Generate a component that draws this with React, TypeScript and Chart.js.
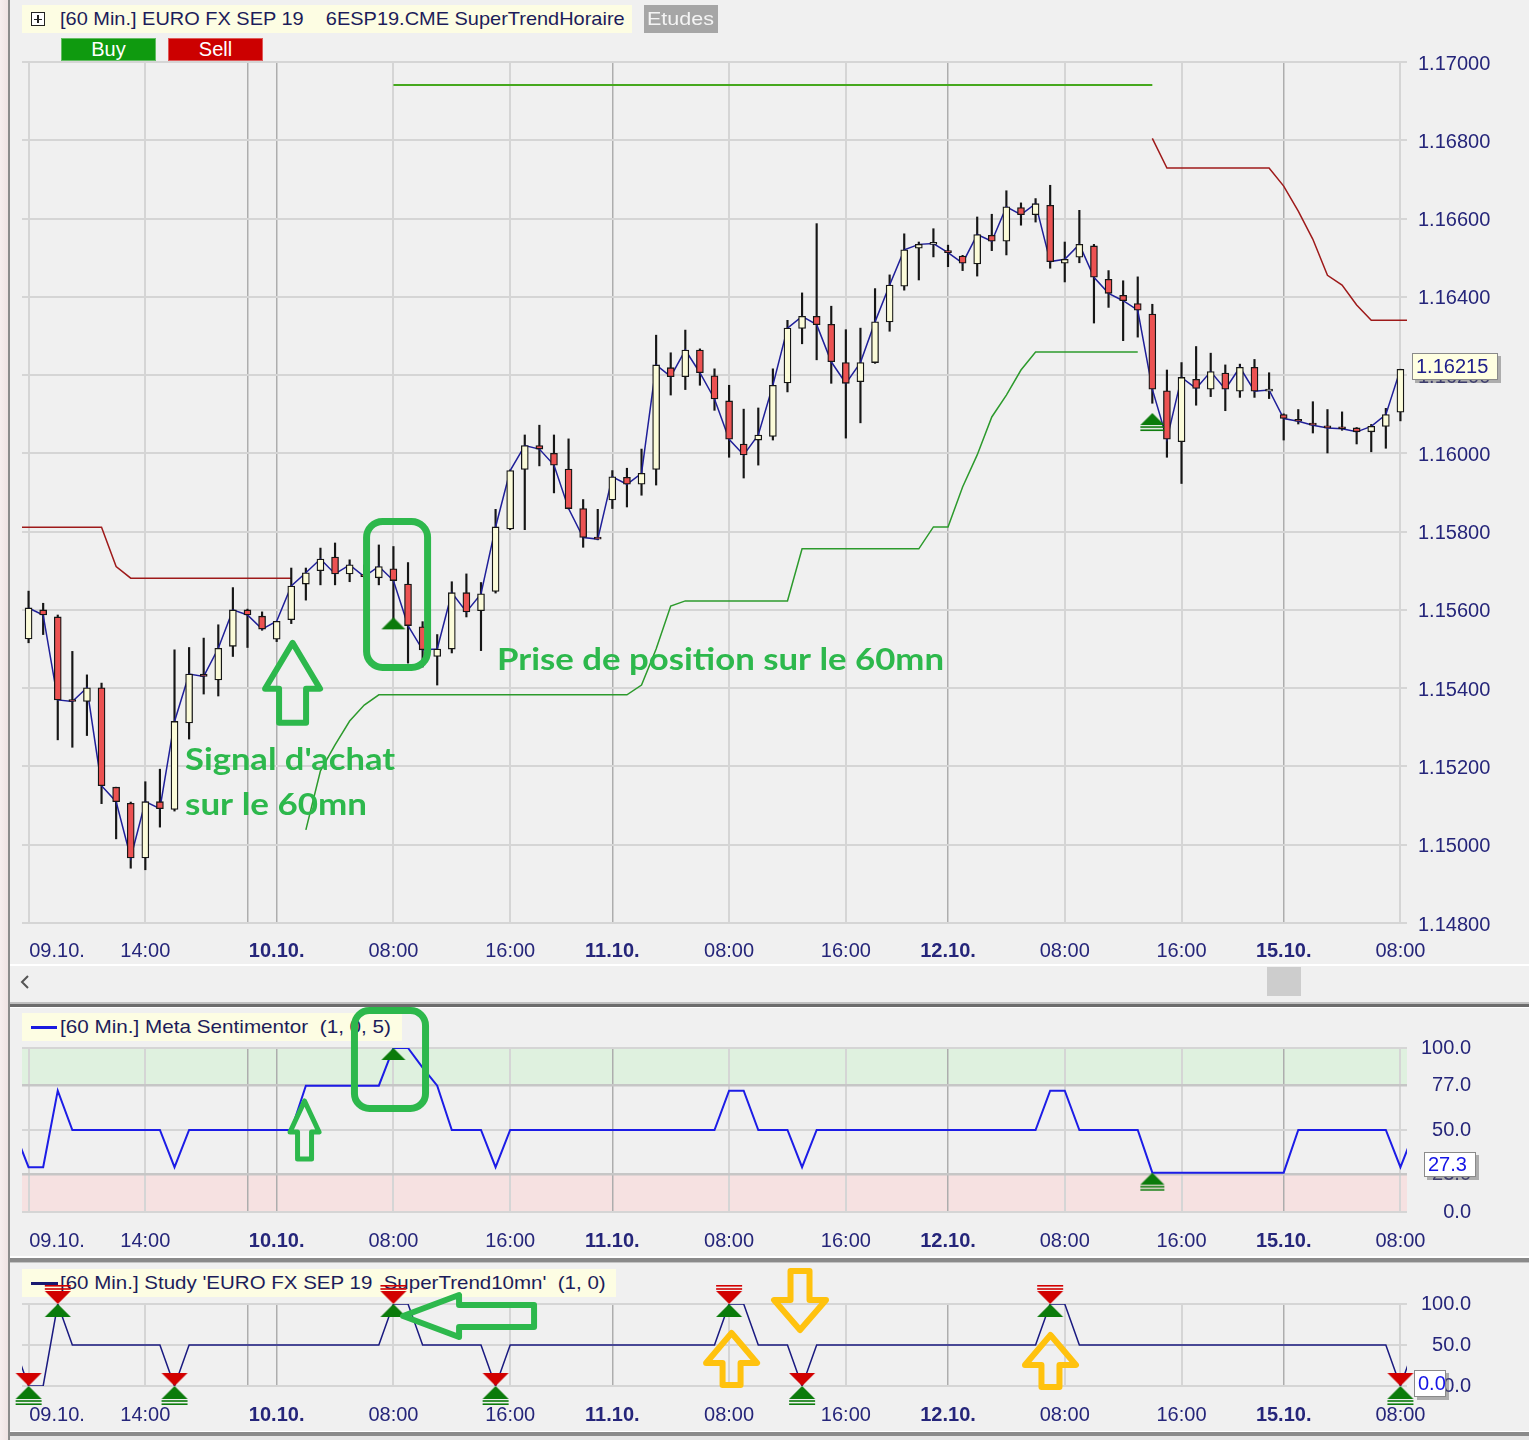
import React, { useEffect, useRef } from "react";
import { Chart, registerables } from "chart.js";

Chart.register(...registerables);

// ---------------- DATA (bar index 0 = first hourly bar, 09.10.) ----------------
const OPEN = [
  1.15526, 1.15600, 1.15582, 1.15370, 1.15366, 1.15401, 1.15147, 1.15106, 1.14966, 1.15110,
  1.15090, 1.15311, 1.15436, 1.15421, 1.15507, 1.15600, 1.15584, 1.15525, 1.15575, 1.15666,
  1.15700, 1.15735, 1.15692, 1.15689, 1.15682, 1.15705, 1.15666, 1.15557, 1.15481, 1.15500,
  1.15644, 1.15598, 1.15647, 1.15807, 1.15959, 1.16020, 1.16000, 1.15960, 1.15859, 1.15785,
  1.15881, 1.15939, 1.15921, 1.15959, 1.16219, 1.16196, 1.16264, 1.16198, 1.16134, 1.16024,
  1.16034, 1.16043, 1.16180, 1.16319, 1.16350, 1.16330, 1.16232, 1.16183, 1.16232, 1.16336,
  1.16427, 1.16524, 1.16534, 1.16515, 1.16504, 1.16484, 1.16557, 1.16542, 1.16628, 1.16610,
  1.16634, 1.16486, 1.16501, 1.16530, 1.16445, 1.16404, 1.16383, 1.16356, 1.16160, 1.16030,
  1.16189, 1.16164, 1.16205, 1.16159, 1.16220, 1.16159, 1.16099, 1.16085, 1.16075, 1.16067,
  1.16065, 1.16065, 1.16055, 1.16069, 1.16105,
];
const HIGH = [
  1.15648, 1.15617, 1.15587, 1.15494, 1.15434, 1.15413, 1.15147, 1.15109, 1.15161, 1.15193,
  1.15498, 1.15504, 1.15528, 1.15562, 1.15657, 1.15602, 1.15595, 1.15571, 1.15707, 1.15707,
  1.15758, 1.15771, 1.15728, 1.15715, 1.15766, 1.15762, 1.15721, 1.15570, 1.15537, 1.15672,
  1.15692, 1.15670, 1.15857, 1.15958, 1.16047, 1.16072, 1.16047, 1.16037, 1.15882, 1.15857,
  1.15956, 1.15962, 1.16011, 1.16302, 1.16257, 1.16315, 1.16267, 1.16216, 1.16174, 1.16113,
  1.16116, 1.16216, 1.16340, 1.16410, 1.16587, 1.16376, 1.16316, 1.16320, 1.16421, 1.16456,
  1.16561, 1.16540, 1.16574, 1.16532, 1.16506, 1.16604, 1.16611, 1.16671, 1.16640, 1.16651,
  1.16685, 1.16540, 1.16621, 1.16534, 1.16467, 1.16441, 1.16451, 1.16381, 1.16213, 1.16232,
  1.16273, 1.16256, 1.16226, 1.16228, 1.16240, 1.16206, 1.16101, 1.16112, 1.16132, 1.16112,
  1.16106, 1.16066, 1.16074, 1.16115, 1.16215,
];
const LOW = [
  1.15516, 1.15537, 1.15268, 1.15249, 1.15279, 1.15105, 1.15015, 1.14940, 1.14936, 1.15045,
  1.15086, 1.15270, 1.15385, 1.15380, 1.15481, 1.15504, 1.15548, 1.15519, 1.15565, 1.15625,
  1.15664, 1.15664, 1.15672, 1.15681, 1.15664, 1.15558, 1.15464, 1.15454, 1.15408, 1.15490,
  1.15582, 1.15496, 1.15643, 1.15805, 1.15805, 1.15968, 1.15899, 1.15858, 1.15760, 1.15779,
  1.15859, 1.15863, 1.15893, 1.15919, 1.16149, 1.16163, 1.16174, 1.16110, 1.15990, 1.15937,
  1.15970, 1.16034, 1.16157, 1.16280, 1.16239, 1.16179, 1.16039, 1.16078, 1.16230, 1.16312,
  1.16417, 1.16443, 1.16502, 1.16477, 1.16467, 1.16453, 1.16518, 1.16507, 1.16583, 1.16591,
  1.16473, 1.16438, 1.16487, 1.16333, 1.16373, 1.16288, 1.16297, 1.16128, 1.15990, 1.15923,
  1.16123, 1.16145, 1.16109, 1.16143, 1.16143, 1.16140, 1.16034, 1.16075, 1.16052, 1.16001,
  1.16059, 1.16024, 1.16004, 1.16013, 1.16083,
];
const CLOSE = [
  1.15605, 1.15587, 1.15370, 1.15366, 1.15401, 1.15151, 1.15110, 1.14966, 1.15110, 1.15092,
  1.15315, 1.15436, 1.15430, 1.15502, 1.15600, 1.15587, 1.15551, 1.15571, 1.15661, 1.15695,
  1.15730, 1.15692, 1.15715, 1.15685, 1.15711, 1.15675, 1.15560, 1.15498, 1.15500, 1.15644,
  1.15595, 1.15641, 1.15812, 1.15956, 1.16020, 1.16011, 1.15970, 1.15859, 1.15785, 1.15781,
  1.15940, 1.15921, 1.15949, 1.16226, 1.16196, 1.16264, 1.16206, 1.16139, 1.16036, 1.15996,
  1.16047, 1.16174, 1.16320, 1.16350, 1.16329, 1.16234, 1.16179, 1.16232, 1.16336, 1.16430,
  1.16520, 1.16534, 1.16536, 1.16513, 1.16486, 1.16559, 1.16542, 1.16630, 1.16610, 1.16638,
  1.16490, 1.16496, 1.16534, 1.16450, 1.16409, 1.16390, 1.16366, 1.16164, 1.16036, 1.16194,
  1.16166, 1.16209, 1.16164, 1.16220, 1.16159, 1.16162, 1.16089, 1.16082, 1.16072, 1.16065,
  1.16063, 1.16055, 1.16069, 1.16099, 1.16215,
];

// indicator series run from bar index -1 to 95 (edge points are clipped by the plot)
const IND_START = -1;
const ST_UPPER = [
  1.15811,
  1.15811, 1.15811, 1.15811, 1.15811, 1.15811, 1.15811, 1.15711, 1.15681, 1.15681, 1.15681,
  1.15681, 1.15681, 1.15681, 1.15681, 1.15681, 1.15681, 1.15681, 1.15681, 1.15681, null,
  null, null, null, null, null, null, null, null, null, null,
  null, null, null, null, null, null, null, null, null, null,
  null, null, null, null, null, null, null, null, null, null,
  null, null, null, null, null, null, null, null, null, null,
  null, null, null, null, null, null, null, null, null, null,
  null, null, null, null, null, null, null, 1.16805, 1.16729, 1.16729,
  1.16729, 1.16729, 1.16729, 1.16729, 1.16729, 1.16729, 1.16683, 1.16619, 1.16547, 1.16455,
  1.16430, 1.16379, 1.16340, 1.16340, 1.16340,
  1.16340,
];
const ST_LOWER = [
  null,
  null, null, null, null, null, null, null, null, null, null,
  null, null, null, null, null, null, null, null, null, 1.15038,
  1.15189, 1.15255, 1.15316, 1.15357, 1.15383, 1.15383, 1.15383, 1.15383, 1.15383, 1.15383,
  1.15383, 1.15383, 1.15383, 1.15383, 1.15383, 1.15383, 1.15383, 1.15383, 1.15383, 1.15383,
  1.15383, 1.15383, 1.15408, 1.15500, 1.15610, 1.15623, 1.15623, 1.15623, 1.15623, 1.15623,
  1.15623, 1.15623, 1.15623, 1.15756, 1.15756, 1.15756, 1.15756, 1.15756, 1.15756, 1.15756,
  1.15756, 1.15756, 1.15812, 1.15812, 1.15914, 1.15996, 1.16093, 1.16149, 1.16213, 1.16259,
  1.16259, 1.16259, 1.16259, 1.16259, 1.16259, 1.16259, 1.16259, null, null, null,
  null, null, null, null, null, null, null, null, null, null,
  null, null, null, null, null,
  null,
];
const ST_TARGET = [
  null,
  null, null, null, null, null, null, null, null, null, null,
  null, null, null, null, null, null, null, null, null, null,
  null, null, null, null, null, 1.16941, 1.16941, 1.16941, 1.16941, 1.16941,
  1.16941, 1.16941, 1.16941, 1.16941, 1.16941, 1.16941, 1.16941, 1.16941, 1.16941, 1.16941,
  1.16941, 1.16941, 1.16941, 1.16941, 1.16941, 1.16941, 1.16941, 1.16941, 1.16941, 1.16941,
  1.16941, 1.16941, 1.16941, 1.16941, 1.16941, 1.16941, 1.16941, 1.16941, 1.16941, 1.16941,
  1.16941, 1.16941, 1.16941, 1.16941, 1.16941, 1.16941, 1.16941, 1.16941, 1.16941, 1.16941,
  1.16941, 1.16941, 1.16941, 1.16941, 1.16941, 1.16941, 1.16941, 1.16941, null, null,
  null, null, null, null, null, null, null, null, null, null,
  null, null, null, null, null,
  null,
];
const META = [
  50,
  27.3, 27.3, 74, 50, 50, 50, 50, 50, 50, 50,
  27.3, 50, 50, 50, 50, 50, 50, 50, 50, 77,
  77, 77, 77, 77, 77, 100, 100, 88, 77, 50,
  50, 50, 27.3, 50, 50, 50, 50, 50, 50, 50,
  50, 50, 50, 50, 50, 50, 50, 50, 74, 74,
  50, 50, 50, 27.3, 50, 50, 50, 50, 50, 50,
  50, 50, 50, 50, 50, 50, 50, 50, 50, 50,
  74, 74, 50, 50, 50, 50, 50, 24, 24, 24,
  24, 24, 24, 24, 24, 24, 24, 50, 50, 50,
  50, 50, 50, 50, 27.3,
  50,
];
const ST10 = [
  50,
  0, 0, 100, 50, 50, 50, 50, 50, 50, 50,
  0, 50, 50, 50, 50, 50, 50, 50, 50, 50,
  50, 50, 50, 50, 50, 100, 100, 50, 50, 50,
  50, 50, 0, 50, 50, 50, 50, 50, 50, 50,
  50, 50, 50, 50, 50, 50, 50, 50, 100, 100,
  50, 50, 50, 0, 50, 50, 50, 50, 50, 50,
  50, 50, 50, 50, 50, 50, 50, 50, 50, 50,
  100, 100, 50, 50, 50, 50, 50, 50, 50, 50,
  50, 50, 50, 50, 50, 50, 50, 50, 50, 50,
  50, 50, 50, 50, 0,
  50,
];

// signal markers
const BUY_IDX = [25, 77];
const BUY_PRICE = [1.15581, 1.16103];
const META_MARK_IDX = [25, 77];
const ST10_LOW_IDX = [0, 10, 32, 53, 94];
const ST10_HIGH_IDX = [2, 25, 48, 70];

// axes
const X_TICKS = [0, 1.95, 8, 15, 17, 25, 33, 40, 48, 56, 63, 71, 79, 86, 94];
const X_LABELS = ["", "09.10.", "14:00", "", "10.10.", "08:00", "16:00", "11.10.", "08:00", "16:00", "12.10.", "08:00", "16:00", "15.10.", "08:00"];
const X_BOLD = [17, 40, 63, 86];
const X_DAY = [15, 17, 40, 63, 86];
const X_LABEL_ONLY = [1.95];
const PRICE_TICKS = [1.148, 1.15, 1.152, 1.154, 1.156, 1.158, 1.16, 1.162, 1.164, 1.166, 1.168, 1.17];
const META_TICKS = [0, 23, 50, 77, 100];
const ST10_TICKS = [0, 50, 100];
const META_BAND_HIGH = [77, 100];
const META_BAND_LOW = [0, 23];

// hand-drawn notes, anchored in data units (bar index, price / indicator value)
const NOTE_MAIN_BOX = [22.92, 1.15835, 27.58, 1.15444];
const NOTE_MAIN_ARROW = [18.09, 1.15516];
const NOTE_TEXT_1 = [10.72, 1.15217];
const NOTE_TEXT_2 = [10.72, 1.15102];
const NOTE_TEXT_3 = [32.1, 1.15472];
const NOTE_META_BOX = [22.09, 125, 27.44, 61];
const NOTE_META_ARROW = [18.91, 67.7];
const NOTE_ST_LEFT_ARROW = [25.66, 85.4];
const NOTE_ST_DOWN_ARROW = [52.86, 68.3];
const NOTE_ST_UP_ARROWS = [[48.17, 64.6], [70.02, 62.2]];

// ---------------- STYLE ----------------
const FONT = '"Liberation Sans", Arial, sans-serif';
const AXIS_COLOR = "#25257a";
const BG = "#f0f0f0";
const GRID = "#d5d5d5";
const GRID_DAY = "#adadad";
const BULL = "#fbfbd9";
const BEAR = "#ec5252";
const OUTLINE = "#161616";
const ANN_GREEN = "#2db84c";
const ANN_YELLOW = "#ffc20e";
const MK_GREEN = "#0b7b0b";
const MK_RED = "#d20000";
const X_MIN = -0.45;
const X_MAX = 94.45;

Chart.defaults.font.family = FONT;

function ser(arr: (number | null)[]) {
  return arr.map((v, k) => ({ x: k + IND_START, y: v }));
}
function indVal(arr: (number | null)[], idx: number) {
  return arr[idx - IND_START];
}

function makeMarker(kind: string, W: number, H: number) {
  const ext = H + 8;
  const c = document.createElement("canvas");
  c.width = W + 4;
  c.height = ext * 2;
  const g = c.getContext("2d")!;
  const cx = c.width / 2;
  const cy = ext;
  const tri = (apexY: number, baseY: number, color: string) => {
    g.fillStyle = color;
    g.beginPath();
    g.moveTo(cx, apexY);
    g.lineTo(cx + W / 2, baseY);
    g.lineTo(cx - W / 2, baseY);
    g.closePath();
    g.fill();
  };
  const bars = (y: number, color: string) => {
    g.fillStyle = color;
    g.fillRect(cx - W / 2, y, W, 1.6);
    g.fillRect(cx - W / 2, y + 3.2, W, 1.6);
  };
  if (kind === "up" || kind === "upU") {
    tri(cy, cy + H, MK_GREEN);
    if (kind === "upU") bars(cy + H + 1.2, MK_GREEN);
  } else {
    tri(cy, cy - H, MK_RED);
    tri(cy, cy + H, MK_GREEN);
    if (kind === "hgLow") bars(cy + H + 1.2, MK_GREEN);
    else bars(cy - H - 6, MK_RED);
  }
  return c;
}

function xAxis(height: number, pad: number): any {
  return {
    type: "linear",
    position: "bottom",
    min: X_MIN,
    max: X_MAX,
    offset: false,
    afterBuildTicks: (s: any) => {
      s.ticks = X_TICKS.map((v) => ({ value: v }));
    },
    afterFit: (s: any) => {
      s.height = height;
    },
    border: { display: false },
    grid: {
      offset: false,
      drawTicks: false,
      color: (c: any) => {
        const v = c.tick ? c.tick.value : null;
        if (X_LABEL_ONLY.includes(v)) return "rgba(0,0,0,0)";
        return X_DAY.includes(v) ? GRID_DAY : GRID;
      },
      lineWidth: (c: any) => (c.tick && X_DAY.includes(c.tick.value) ? 1.5 : 2),
    },
    ticks: {
      autoSkip: false,
      maxRotation: 0,
      minRotation: 0,
      padding: pad,
      color: AXIS_COLOR,
      font: (c: any) => ({ family: FONT, size: 20, weight: c.tick && X_BOLD.includes(c.tick.value) ? "bold" : "normal" }),
      callback: (_v: any, i: number) => X_LABELS[i],
    },
  };
}

function yAxis(min: number, max: number, ticks: number[], digits: number, crossAlign: string, pad: number, width: number, gridColor: any, gridWidth: any, labelOffset: number): any {
  return {
    type: "linear",
    position: "right",
    min,
    max,
    beginAtZero: false,
    afterBuildTicks: (s: any) => {
      s.ticks = ticks.map((v) => ({ value: v }));
    },
    afterFit: (s: any) => {
      s.width = width;
    },
    border: { display: false },
    grid: { drawTicks: false, color: gridColor, lineWidth: gridWidth },
    ticks: {
      padding: pad,
      crossAlign,
      labelOffset,
      color: AXIS_COLOR,
      font: { family: FONT, size: 20 },
      callback: (v: any) => Number(v).toFixed(digits),
    },
  };
}

function roundBox(ctx: any, x0: number, y0: number, x1: number, y1: number, lw: number, r: number, color: string) {
  const h = lw / 2;
  ctx.save();
  ctx.beginPath();
  ctx.roundRect(x0 + h, y0 + h, x1 - x0 - lw, y1 - y0 - lw, r);
  ctx.strokeStyle = color;
  ctx.lineWidth = lw;
  ctx.stroke();
  ctx.restore();
}

function blockArrow(ctx: any, tipX: number, tipY: number, angle: number, L: number, headLen: number, headW: number, shaftW: number, color: string, lw: number) {
  ctx.save();
  ctx.translate(tipX, tipY);
  ctx.rotate(angle);
  ctx.beginPath();
  ctx.moveTo(0, 0);
  ctx.lineTo(headW / 2, headLen);
  ctx.lineTo(shaftW / 2, headLen);
  ctx.lineTo(shaftW / 2, L);
  ctx.lineTo(-shaftW / 2, L);
  ctx.lineTo(-shaftW / 2, headLen);
  ctx.lineTo(-headW / 2, headLen);
  ctx.closePath();
  ctx.strokeStyle = color;
  ctx.lineWidth = lw;
  ctx.lineJoin = "round";
  ctx.stroke();
  ctx.restore();
}

function fitText(ctx: any, text: string, x: number, y: number, width: number, font: string, color: string) {
  ctx.save();
  ctx.font = font;
  const m = ctx.measureText(text).width;
  ctx.translate(x, y);
  ctx.scale(width / m, 1);
  ctx.fillStyle = color;
  ctx.textBaseline = "middle";
  ctx.textAlign = "left";
  ctx.fillText(text, 0, 0);
  ctx.restore();
}

function valueBox(ctx: any, text: string, x: number, yc: number, w: number, h: number, bg: string, fg: string) {
  ctx.save();
  const y = Math.round(yc - h / 2);
  ctx.fillStyle = "rgba(90,90,90,0.45)";
  ctx.fillRect(x + 3, y + 3, w, h);
  ctx.fillStyle = bg;
  ctx.fillRect(x, y, w, h);
  ctx.strokeStyle = "#8a8a8a";
  ctx.lineWidth = 1;
  ctx.strokeRect(x + 0.5, y + 0.5, w - 1, h - 1);
  ctx.fillStyle = fg;
  ctx.font = `20px ${FONT}`;
  ctx.textBaseline = "middle";
  ctx.textAlign = "left";
  ctx.fillText(text, x + 4, y + h / 2 + 1);
  ctx.restore();
}

const baseOptions = (padTop: number, padRight: number) => ({
  animation: false,
  responsive: false,
  events: [],
  layout: { padding: { left: 22, right: padRight, top: padTop, bottom: 0 } },
  plugins: { legend: { display: false }, tooltip: { enabled: false } },
});

function mainConfig(): any {
  const triUp = makeMarker("up", 24, 12);
  const triUpU = makeMarker("upU", 24, 12);
  const annotate = {
    id: "mainNotes",
    afterDraw(chart: any) {
      const { ctx } = chart;
      const xs = chart.scales.x;
      const ys = chart.scales.y;
      const X = (v: number) => xs.getPixelForValue(v);
      const Y = (v: number) => ys.getPixelForValue(v);
      roundBox(ctx, X(NOTE_MAIN_BOX[0]), Y(NOTE_MAIN_BOX[1]), X(NOTE_MAIN_BOX[2]), Y(NOTE_MAIN_BOX[3]), 7, 16, ANN_GREEN);
      blockArrow(ctx, X(NOTE_MAIN_ARROW[0]), Y(NOTE_MAIN_ARROW[1]), 0, 80, 46, 55, 27, ANN_GREEN, 6);
      fitText(ctx, "Signal d'achat", X(NOTE_TEXT_1[0]), Y(NOTE_TEXT_1[1]), 210, "bold 31px Lato", ANN_GREEN);
      fitText(ctx, "sur le 60mn", X(NOTE_TEXT_2[0]), Y(NOTE_TEXT_2[1]), 182, "bold 31px Lato", ANN_GREEN);
      fitText(ctx, "Prise de position sur le 60mn", X(NOTE_TEXT_3[0]), Y(NOTE_TEXT_3[1]), 447, "bold 31px Lato", ANN_GREEN);
      const last = CLOSE[CLOSE.length - 1];
      valueBox(ctx, last.toFixed(5), 1412, Y(last) - 3, 86, 27, "#ffffe1", "#20208c");
    },
  };
  return {
    type: "bar",
    data: {
      datasets: [
        { type: "line", data: BUY_IDX.map((x, k) => ({ x, y: BUY_PRICE[k] })), showLine: false, pointStyle: [triUp, triUpU], pointRadius: 10, clip: false, order: 0 },
        {
          type: "bar",
          data: OPEN.map((o, i) => ({ x: i, y: [o, CLOSE[i]] })),
          backgroundColor: OPEN.map((o, i) => (CLOSE[i] >= o ? BULL : BEAR)),
          borderColor: OUTLINE,
          borderWidth: 1.3,
          borderSkipped: false,
          barThickness: 7,
          grouped: false,
          minBarLength: 2,
          order: 1,
        },
        { type: "line", data: CLOSE.map((c, i) => ({ x: i, y: c })), borderColor: "#1f1f99", borderWidth: 1.5, pointRadius: 0, order: 2 },
        { type: "bar", data: LOW.map((l, i) => ({ x: i, y: [l, HIGH[i]] })), backgroundColor: OUTLINE, borderWidth: 0, barThickness: 1.5, grouped: false, order: 3 },
        { type: "line", data: ser(ST_TARGET), borderColor: "#46a81e", borderWidth: 2, pointRadius: 0, order: 4 },
        { type: "line", data: ser(ST_LOWER), borderColor: "#2c9a2c", borderWidth: 1.5, pointRadius: 0, order: 5 },
        { type: "line", data: ser(ST_UPPER), borderColor: "#9e1a1a", borderWidth: 1.5, pointRadius: 0, order: 6 },
      ],
    },
    options: {
      ...baseOptions(62, 0),
      scales: {
        x: xAxis(77, 16),
        y: yAxis(1.148, 1.17, PRICE_TICKS, 5, "near", 11, 122, GRID, 2, 2),
      },
    },
    plugins: [annotate],
  };
}

function metaConfig(): any {
  const triUp = makeMarker("up", 24, 12);
  const triUpU = makeMarker("upU", 24, 12);
  const bands = {
    id: "bands",
    beforeDraw(chart: any) {
      const { ctx, chartArea: a } = chart;
      const ys = chart.scales.y;
      ctx.save();
      ctx.fillStyle = "#dff1df";
      const h0 = ys.getPixelForValue(META_BAND_HIGH[1]);
      const h1 = ys.getPixelForValue(META_BAND_HIGH[0]);
      ctx.fillRect(a.left, h0, a.right - a.left, h1 - h0);
      ctx.fillStyle = "#f6e1e1";
      const l0 = ys.getPixelForValue(META_BAND_LOW[1]);
      const l1 = ys.getPixelForValue(META_BAND_LOW[0]);
      ctx.fillRect(a.left, l0, a.right - a.left, l1 - l0);
      ctx.restore();
    },
  };
  const annotate = {
    id: "metaNotes",
    afterDraw(chart: any) {
      const { ctx } = chart;
      const xs = chart.scales.x;
      const ys = chart.scales.y;
      const X = (v: number) => xs.getPixelForValue(v);
      const Y = (v: number) => ys.getPixelForValue(v);
      roundBox(ctx, X(NOTE_META_BOX[0]), Y(NOTE_META_BOX[1]), X(NOTE_META_BOX[2]), Y(NOTE_META_BOX[3]), 7, 15, ANN_GREEN);
      blockArrow(ctx, X(NOTE_META_ARROW[0]), Y(NOTE_META_ARROW[1]), 0, 58, 31, 29, 14, ANN_GREEN, 5);
      const v = indVal(META, 94) as number;
      valueBox(ctx, v.toFixed(1), 1424, Y(v) - 3, 52, 25, "#ffffff", "#1414e6");
    },
  };
  return {
    type: "line",
    data: {
      datasets: [
        { data: META_MARK_IDX.map((x) => ({ x, y: indVal(META, x) })), showLine: false, pointStyle: [triUp, triUpU], pointRadius: 10, clip: false, order: 0 },
        { data: ser(META), borderColor: "#1c1ce6", borderWidth: 2, pointRadius: 0, order: 1 },
      ],
    },
    options: {
      ...baseOptions(48, 58),
      scales: {
        x: xAxis(46, 17),
        y: yAxis(0, 100, META_TICKS, 1, "far", 14, 64,
          (c: any) => (c.tick && (c.tick.value === 23 || c.tick.value === 77) ? "#c6c6c6" : GRID),
          (c: any) => (c.tick && (c.tick.value === 23 || c.tick.value === 77) ? 2.5 : 2), 0),
      },
    },
    plugins: [bands, annotate],
  };
}

function st10Config(): any {
  const hgLow = makeMarker("hgLow", 26, 13);
  const hgHigh = makeMarker("hgHigh", 26, 13);
  const annotate = {
    id: "stNotes",
    afterDraw(chart: any) {
      const { ctx } = chart;
      const xs = chart.scales.x;
      const ys = chart.scales.y;
      const X = (v: number) => xs.getPixelForValue(v);
      const Y = (v: number) => ys.getPixelForValue(v);
      blockArrow(ctx, X(NOTE_ST_LEFT_ARROW[0]), Y(NOTE_ST_LEFT_ARROW[1]), -Math.PI / 2, 131, 56, 42, 22, ANN_GREEN, 6);
      blockArrow(ctx, X(NOTE_ST_DOWN_ARROW[0]), Y(NOTE_ST_DOWN_ARROW[1]), Math.PI, 59, 30, 52, 19, ANN_YELLOW, 6);
      NOTE_ST_UP_ARROWS.forEach((a) => blockArrow(ctx, X(a[0]), Y(a[1]), 0, 52, 30, 51, 18, ANN_YELLOW, 6));
      const v = indVal(ST10, 94) as number;
      valueBox(ctx, v.toFixed(1), 1414, Y(v) - 3, 32, 27, "#ffffff", "#1414e6");
    },
  };
  return {
    type: "line",
    data: {
      datasets: [
        { data: ST10_HIGH_IDX.map((x) => ({ x, y: indVal(ST10, x) })), showLine: false, pointStyle: hgHigh, pointRadius: 10, clip: false, order: 0 },
        { data: ST10_LOW_IDX.map((x) => ({ x, y: indVal(ST10, x) })), showLine: false, pointStyle: hgLow, pointRadius: 10, clip: false, order: 0 },
        { data: ser(ST10), borderColor: "#1a1a80", borderWidth: 1.5, pointRadius: 0, order: 1 },
      ],
    },
    options: {
      ...baseOptions(40, 58),
      scales: {
        x: xAxis(50, 17),
        y: yAxis(0, 100, ST10_TICKS, 1, "far", 14, 64, GRID, 2, 0),
      },
    },
    plugins: [annotate],
  };
}

function ChartCanvas({ top, height, make }: { top: number; height: number; make: () => any }) {
  const ref = useRef<HTMLCanvasElement>(null);
  useEffect(() => {
    const chart = new Chart(ref.current as HTMLCanvasElement, make());
    return () => chart.destroy();
  }, []);
  return (
    <canvas
      ref={ref}
      width={1529}
      height={height}
      style={{ position: "absolute", left: 0, top, width: 1529, height, zIndex: 1 }}
    />
  );
}

let measureCtx: CanvasRenderingContext2D | null = null;
function FitText({ text, left, top, height, width, size, color, z = 0 }: any) {
  if (!measureCtx && typeof document !== "undefined") measureCtx = document.createElement("canvas").getContext("2d");
  let scale = 1;
  if (measureCtx) {
    measureCtx.font = `${size}px ${FONT}`;
    const w = measureCtx.measureText(text).width;
    if (w > 0) scale = width / w;
  }
  return (
    <div
      style={{
        position: "absolute", left, top, height, lineHeight: `${height}px`, fontFamily: FONT, fontSize: size,
        color, whiteSpace: "pre", transform: `scaleX(${scale})`, transformOrigin: "left center", zIndex: z,
      }}
    >
      {text}
    </div>
  );
}

function Rect({ l, t, w, h, bg, z = 0 }: any) {
  return <div style={{ position: "absolute", left: l, top: t, width: w, height: h, background: bg, zIndex: z }} />;
}

function Button({ l, t, w, h, bg, label, color, z }: any) {
  return (
    <div
      style={{
        position: "absolute", left: l, top: t, width: w, height: h, background: bg, zIndex: z, color,
        fontFamily: FONT, fontSize: 20, lineHeight: `${h - 2}px`, textAlign: "center", boxSizing: "border-box",
        border: "1px solid rgba(255,255,255,0.35)",
      }}
    >
      {label}
    </div>
  );
}

export default function App() {
  return (
    <div style={{ position: "absolute", left: 0, top: 0, width: 1529, height: 1440, background: BG, overflow: "hidden" }}>
      {/* window frame */}
      <Rect l={0} t={0} w={8} h={1440} bg="linear-gradient(90deg,#f6eeee,#efe3e3)" />
      <Rect l={8} t={0} w={2} h={1440} bg="#8c8c8c" />

      {/* main panel header */}
      <Rect l={22} t={5} w={610} h={28} bg="#fdfde3" z={2} />
      <div style={{ position: "absolute", left: 31, top: 12, width: 12, height: 12, border: "1px solid #222", background: "#fff", zIndex: 3 }}>
        <div style={{ position: "absolute", left: 2, top: 5.5, width: 8, height: 1.5, background: "#222" }} />
        <div style={{ position: "absolute", left: 5.3, top: 2, width: 1.5, height: 8, background: "#222" }} />
      </div>
      <FitText text="[60 Min.] EURO FX SEP 19    6ESP19.CME SuperTrendHoraire" left={60} top={5} height={28} width={565} size={19} color="#1c1c5a" z={3} />
      <Rect l={644} t={5} w={74} h={28} bg="#a6a6a6" z={2} />
      <FitText text="Etudes" left={647} top={5} height={28} width={67} size={19} color="#f4f4f4" z={3} />
      <Button l={61} t={38} w={95} h={23} bg="#0f9a0f" label="Buy" color="#ffffff" z={3} />
      <Button l={168} t={38} w={95} h={23} bg="#cc0000" label="Sell" color="#ffffff" z={3} />

      {/* scrollbar */}
      <Rect l={10} t={964} w={1519} h={2} bg="#ffffff" z={2} />
      <Rect l={1267} t={967} w={34} h={29} bg="#cdcdcd" z={2} />
      <svg style={{ position: "absolute", left: 18, top: 974, zIndex: 2 }} width={14} height={16}>
        <polyline points="10,2 4,8 10,14" fill="none" stroke="#555" strokeWidth={2} />
      </svg>

      {/* separators */}
      <Rect l={10} t={1002} w={1519} h={2} bg="#c0c0c0" />
      <Rect l={10} t={1004} w={1519} h={3} bg="#6c6c6c" />
      <Rect l={10} t={1007} w={1519} h={1} bg="#ffffff" />
      <Rect l={10} t={1256} w={1519} h={2} bg="#ffffff" />
      <Rect l={10} t={1258} w={1519} h={4} bg="#8a8a8a" />
      <Rect l={10} t={1262} w={1519} h={1} bg="#c4c4c4" />
      <Rect l={10} t={1431} w={1519} h={1} bg="#ffffff" />
      <Rect l={10} t={1432} w={1519} h={4} bg="#8a8a8a" />
      <Rect l={10} t={1436} w={1519} h={4} bg="#e6e6e6" />

      {/* indicator headers (beneath the chart canvases) */}
      <Rect l={22} t={1013} w={380} h={28} bg="#fdfde3" />
      <Rect l={31} t={1026} w={26} h={3} bg="#1a1ae0" />
      <FitText text="[60 Min.] Meta Sentimentor  (1, 0, 5)" left={60} top={1013} height={28} width={331} size={19} color="#1c1c5a" />
      <Rect l={22} t={1269} w={594} h={28} bg="#fdfde3" />
      <Rect l={31} t={1282} w={27} h={3} bg="#1a1a70" />
      <FitText text="[60 Min.] Study 'EURO FX SEP 19  SuperTrend10mn'  (1, 0)" left={60} top={1269} height={28} width={546} size={19} color="#1c1c5a" />

      <ChartCanvas top={0} height={1000} make={mainConfig} />
      <ChartCanvas top={1000} height={258} make={metaConfig} />
      <ChartCanvas top={1264} height={172} make={st10Config} />
    </div>
  );
}
